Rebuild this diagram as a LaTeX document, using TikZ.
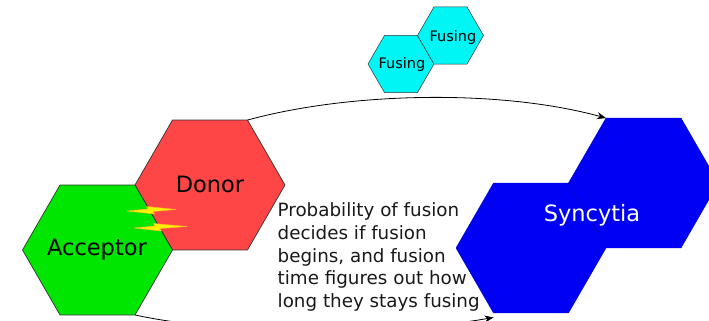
\documentclass[tikz,border=0pt]{standalone}
\usepackage{fontspec}
\setmainfont{DejaVu Sans}
\usetikzlibrary{shapes.geometric,arrows.meta}
\definecolor{accgreen}{RGB}{0,230,0}
\definecolor{donred}{RGB}{255,70,70}
\definecolor{synblue}{RGB}{0,0,245}
\definecolor{fuscyan}{RGB}{0,245,245}
\definecolor{outl}{RGB}{50,50,50}
\definecolor{boltorange}{RGB}{255,185,40}
\tikzset{
  hexbig/.style={regular polygon, regular polygon sides=6, minimum size=150pt,
    inner sep=0pt, outer sep=0pt, draw=outl, line width=0.7pt},
  hexsmall/.style={regular polygon, regular polygon sides=6, minimum size=66pt,
    inner sep=0pt, outer sep=0pt, draw=outl, line width=0.5pt, fill=fuscyan},
  smalllabel/.style={font=\fontsize{14.5}{16}\selectfont, inner sep=0pt},
  biglabel/.style={font=\fontsize{22.5}{26}\selectfont, inner sep=0pt},
  conn/.style={line width=0.8pt, -{Stealth[length=9pt,width=7pt]}},
  bolt/.style={fill=yellow, draw=boltorange, line width=0.5pt, line join=round}
}
\begin{document}
\begin{tikzpicture}[x=1pt,y=-1pt]
\useasboundingbox (0,0) rectangle (709,321);
\clip (0,0) rectangle (709,321);

% syncytia
\node[hexbig, fill=synblue, draw=blue!75!black, line width=0.4pt] (syn1) at (531,248) {};
\node[hexbig, fill=synblue, draw=blue!75!black, line width=0.4pt] (syn2) at (643.5,183) {};
\node[biglabel, text=white] (synlabel) at (592,215) {Syncytia};

% donor and acceptor
\node[hexbig, fill=donred] (donor) at (210,185) {};
\node[biglabel] (donorlabel) at (210,184) {Donor};
\node[hexbig, fill=accgreen] (acceptor) at (97.5,250) {};
\node[biglabel] (acclabel) at (97,250) {Acceptor};

% lightning
\draw[bolt] (127,211) -- (148,209) -- (146.5,206.5) -- (176,209.5) -- (153,211.5) -- (154.5,214) -- cycle;
\draw[bolt] (134,228) -- (155,226) -- (153.5,223.5) -- (187,226.5) -- (160,228.5) -- (161.5,231) -- cycle;

% fusing
\node[hexsmall] (fus1) at (401,64) {};
\node[hexsmall] (fus2) at (450.5,35.5) {};
\node[smalllabel] (fus1label) at (402,64) {Fusing};
\node[smalllabel] (fus2label) at (453,38) {Fusing};

% description
\node[anchor=north west, align=left, inner sep=0pt, text=black!90,
  font=\fontsize{18.3}{22.7}\selectfont] (desc) at (277.5,202.5)
  {Probability of fusion\\decides if fusion\\begins, and fusion\\time figures out how\\long they stays fusing};

% connectors
\draw[conn] (donor.60) .. controls (350,92) and (500,89) .. (syn2.120);
\draw[conn] (acceptor.-60) .. controls (230,336) and (400,334) .. ([yshift=-4.5pt]syn1.-120);
\end{tikzpicture}
\end{document}
